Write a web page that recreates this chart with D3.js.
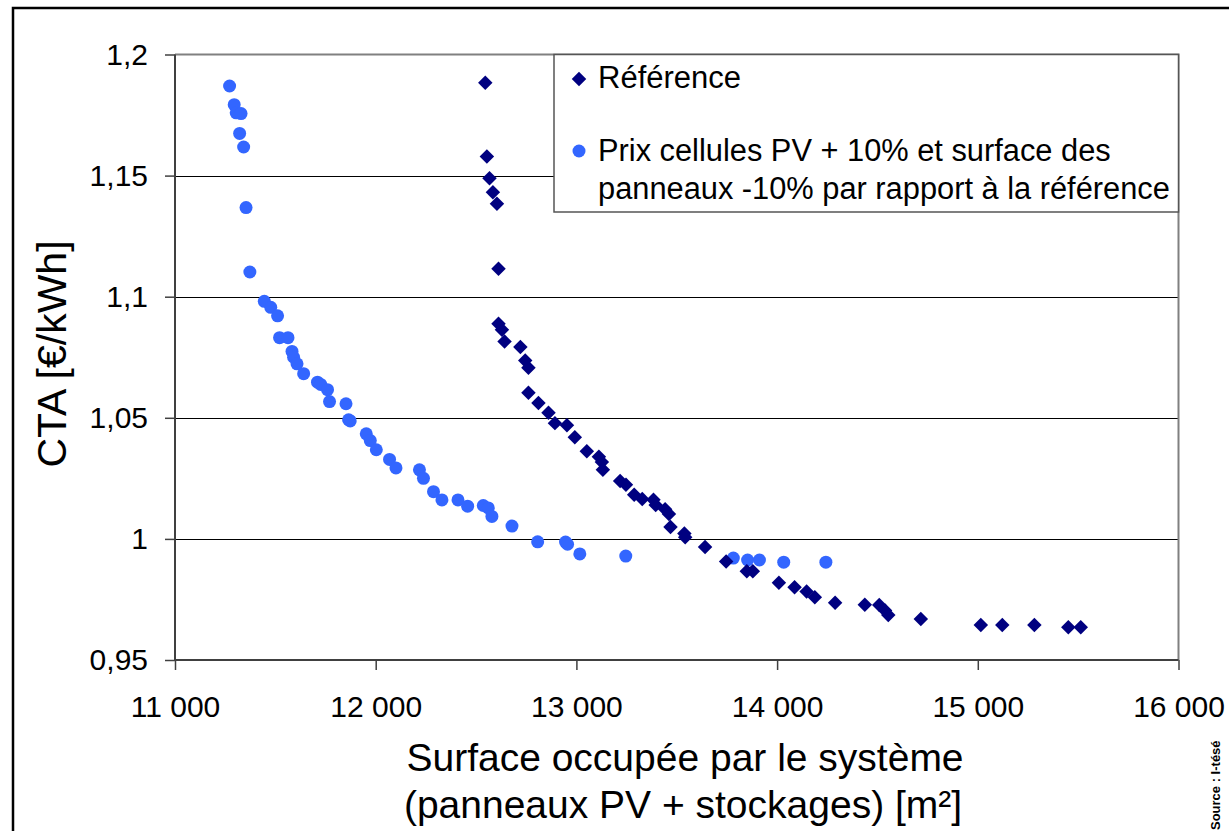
<!DOCTYPE html>
<meta charset="utf-8">
<style>
body { margin: 0; background: #fff; }
svg { font-family: "Liberation Sans", Arial, sans-serif; }
.grid { stroke: #000; stroke-width: 1px; shape-rendering: crispEdges; }
.tick line { stroke: #404040; stroke-width: 1.5px; }
.tick text { font-size: 30px; fill: #000; }
</style>
<body>
<script src="https://d3js.org/d3.v7.min.js"></script>
<script>

var width = 1229,
    height = 831;

// Référence
var refSurface = [12546, 12554, 12567, 12584, 12604, 12612, 12612, 12629, 12642, 12721,
  12745, 12761, 12761, 12811, 12861, 12893, 12953, 12992, 13052, 13112,
  13127, 13132, 13218, 13247, 13288, 13328, 13384, 13395, 13442, 13461,
  13469, 13538, 13542, 13641, 13746, 13849, 13879, 14009, 14087, 14147,
  14188, 14289, 14437, 14509, 14538, 14554, 14716, 15015, 15122, 15282,
  15451, 15513];
var refCTA = [1.1883, 1.1579, 1.1489, 1.1431, 1.1384, 1.1115, 1.0888, 1.0864, 1.0815, 1.0792,
  1.0737, 1.0707, 1.0603, 1.0561, 1.0521, 1.0478, 1.0469, 1.0420, 1.0362, 1.0339,
  1.0317, 1.0286, 1.0239, 1.0224, 1.0182, 1.0165, 1.0162, 1.0140, 1.0122, 1.0103,
  1.0049, 1.0022, 1.0007, 0.9967, 0.9907, 0.9866, 0.9866, 0.9819, 0.9800, 0.9783,
  0.9759, 0.9736, 0.9728, 0.9727, 0.9704, 0.9686, 0.9669, 0.9645, 0.9645, 0.9645,
  0.9635, 0.9635];

// Prix cellules PV + 10% et surface des panneaux -10%
var altSurface = [11272, 11295, 11305, 11329, 11322, 11342, 11354, 11373, 11445, 11477,
  11511, 11521, 11563, 11583, 11591, 11608, 11641, 11710, 11726, 11760,
  11770, 11852, 11865, 11873, 11953, 11973, 12003, 12069, 12101, 12218,
  12238, 12288, 12330, 12410, 12458, 12536, 12561, 12579, 12679, 12807,
  12946, 12956, 13017, 13246, 13782, 13853, 13912, 14033, 14243];
var altCTA = [1.1870, 1.1793, 1.1759, 1.1756, 1.1674, 1.1618, 1.1368, 1.1102, 1.0981, 1.0956,
  1.0921, 1.0831, 1.0831, 1.0774, 1.0750, 1.0723, 1.0682, 1.0647, 1.0638, 1.0616,
  1.0567, 1.0558, 1.0492, 1.0487, 1.0434, 1.0406, 1.0368, 1.0328, 1.0293, 1.0285,
  1.0250, 1.0195, 1.0161, 1.0161, 1.0135, 1.0138, 1.0128, 1.0093, 1.0053, 0.9988,
  0.9987, 0.9978, 0.9938, 0.9929, 0.9921, 0.9913, 0.9913, 0.9904, 0.9904];

var xTicks = [11000, 12000, 13000, 14000, 15000, 16000];
var yTicks = [0.95, 1, 1.05, 1.1, 1.15, 1.2];
var seriesNames = ["Référence",
  ["Prix cellules PV + 10% et surface des", "panneaux -10% par rapport à la référence"]];

var refColor = "#000080",
    altColor = "#3366ff";

var plotL = 175, plotR = 1178.5, plotT = 54.5, plotB = 660;

var x = d3.scaleLinear().domain([11000, 16000]).range([plotL, plotR]);
var y = d3.scaleLinear().domain([0.95, 1.2]).range([plotB, plotT]);

var locale = d3.formatLocale({decimal: ",", thousands: " ", grouping: [3], currency: ["", " €"]});
var fmtX = locale.format(",");

var svg = d3.select("body").append("svg")
    .attr("width", width)
    .attr("height", height);

// outer frame
svg.append("rect")
  .attr("x", 13).attr("y", 8)
  .attr("width", 1300).attr("height", 900)
  .attr("fill", "none").attr("stroke", "#000").attr("stroke-width", 2.5);

// gridlines
svg.selectAll(".grid")
  .data(yTicks.filter(function(d){ return d > 0.95 && d < 1.2; }))
  .enter().append("line")
  .attr("class", "grid")
  .attr("x1", plotL).attr("x2", plotR)
  .attr("y1", function(d){ return Math.round(y(d)); })
  .attr("y2", function(d){ return Math.round(y(d)); });

// plot border top/right
svg.append("path")
  .attr("d", "M" + plotL + "," + plotT + "H" + plotR + "V" + plotB)
  .attr("fill", "none").attr("stroke", "#808080").attr("stroke-width", 2);

// axes
var yAxis = svg.append("g")
  .attr("transform", "translate(" + plotL + ",0)")
  .call(d3.axisLeft(y).tickValues(yTicks).tickSize(10).tickPadding(17)
    .tickFormat(function(d){ return String(d).replace(".", ","); }));
var xAxis = svg.append("g")
  .attr("transform", "translate(0," + plotB + ")")
  .call(d3.axisBottom(x).tickValues(xTicks).tickSize(10).tickPadding(26).tickFormat(fmtX));
yAxis.select(".domain").remove();
xAxis.select(".domain").remove();
svg.append("path")
  .attr("d", "M" + plotL + "," + plotT + "V" + plotB + "H" + plotR)
  .attr("fill", "none").attr("stroke", "#404040").attr("stroke-width", 2);

// legend box
var lg = svg.append("g");
lg.append("rect")
  .attr("x", 554).attr("y", plotT)
  .attr("width", plotR - 554).attr("height", 212 - plotT)
  .attr("fill", "#fff").attr("stroke", "#555").attr("stroke-width", 1.5);

var diamond = d3.symbol(d3.symbolSquare, 105);

lg.append("path")
  .attr("d", diamond())
  .attr("transform", "translate(579,79) rotate(45)")
  .attr("fill", refColor);
lg.append("circle")
  .attr("cx", 579).attr("cy", 151).attr("r", 6.5)
  .attr("fill", altColor);
lg.append("text")
  .attr("x", 598).attr("y", 88)
  .style("font-size", "31px")
  .text(seriesNames[0]);
lg.append("text")
  .attr("x", 598).attr("y", 161)
  .style("font-size", "30.8px")
  .text(seriesNames[1][0]);
lg.append("text")
  .attr("x", 598).attr("y", 199)
  .style("font-size", "30.8px")
  .text(seriesNames[1][1]);

// points
var alt = altSurface.map(function(d, i){ return [d, altCTA[i]]; });
var ref = refSurface.map(function(d, i){ return [d, refCTA[i]]; });

svg.append("g").selectAll("circle")
  .data(alt)
  .enter().append("circle")
  .attr("cx", function(d){ return x(d[0]); })
  .attr("cy", function(d){ return y(d[1]); })
  .attr("r", 6.5)
  .attr("fill", altColor);

svg.append("g").selectAll("path")
  .data(ref)
  .enter().append("path")
  .attr("d", diamond())
  .attr("transform", function(d){ return "translate(" + x(d[0]) + "," + y(d[1]) + ") rotate(45)"; })
  .attr("fill", refColor);

// titles
svg.append("text")
  .attr("transform", "translate(66,354) rotate(-90)")
  .attr("text-anchor", "middle")
  .style("font-size", "41px")
  .text("CTA [€/kWh]");

svg.append("text")
  .attr("x", 685).attr("y", 771)
  .attr("text-anchor", "middle")
  .style("font-size", "39px")
  .text("Surface occupée par le système");
svg.append("text")
  .attr("x", 683).attr("y", 818)
  .attr("text-anchor", "middle")
  .style("font-size", "39px")
  .text("(panneaux PV + stockages) [m²]");

svg.append("text")
  .attr("transform", "translate(1220,830) rotate(-90)")
  .style("font-size", "13px")
  .style("font-weight", "bold")
  .text("Source : I-tésé");

</script>
</body>
